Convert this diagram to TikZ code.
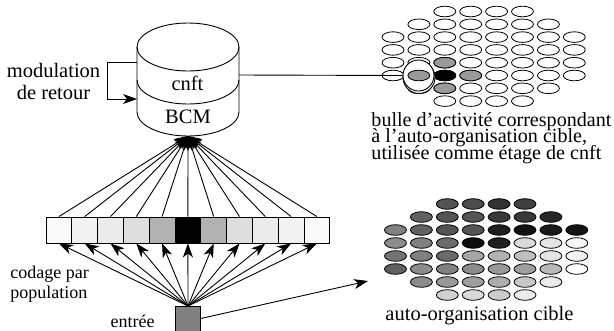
\documentclass[tikz,border=0pt]{standalone}
\usepackage{fontspec}
\setmainfont{Liberation Serif}
\usetikzlibrary{arrows.meta}
\begin{document}
\begin{tikzpicture}[x=1pt,y=-1pt,
  line width=0.9pt,
  arr/.style={-{Stealth[length=14pt,width=10pt,inset=4pt]}},
  big/.style={font=\fontsize{20.5}{22}\selectfont, inner sep=0pt},
  right/.style={font=\fontsize{20.1}{16}\selectfont, inner sep=0pt},
  small/.style={font=\fontsize{18}{20}\selectfont, inner sep=0pt},
  cell/.style={draw, minimum width=25.8pt, minimum height=26pt, inner sep=0pt},
  dotst/.style={draw, line width=0.8pt},
]
\useasboundingbox (0,0) rectangle (614,330);

% cylinder
\draw[fill=white] (137,47) -- (137,112) arc[start angle=180,end angle=360,x radius=51pt,y radius=24pt] -- (239,47);
\draw (188,47) ellipse[x radius=51pt,y radius=24pt];
\draw (137,80) arc[start angle=180,end angle=360,x radius=51pt,y radius=24pt];
\node[big, anchor=base] (cnft) at (187.5,90.7) {cnft};
\node[big, anchor=base] (bcm) at (188,123.3) {BCM};
\coordinate (cylbot) at (188,136);
\coordinate (cylR) at (239,75);
\coordinate (fbA) at (137,62);
\coordinate (fbB) at (137,99);

% feedback
\draw[arr] (fbA) -- ++(-30,0) |- (fbB);
\node[big, anchor=base] (mod1) at (53.5,77.3) {modulation};
\node[big, anchor=base] (mod2) at (53.5,99) {de retour};

% population code bar
\foreach \i/\g in {0/2,1/5,2/8,3/13,4/30,5/100,6/30,7/13,8/8,9/5,10/2}
  \node[cell, fill=black!\g] (s\i) at ({46+25.8*(\i+0.5)},230) {};
\foreach \i in {0,...,10} \draw[arr] (s\i.north) -- (cylbot);

% input
\node[draw, fill=black!50, minimum width=25pt, minimum height=30pt, inner sep=0pt, anchor=north] (inp) at (188,306) {};
\foreach \i in {0,...,10} \draw[arr] (inp.north) -- (s\i.south);
\node[small, anchor=base west] (cod1) at (10,278.5) {codage par};
\node[small, anchor=base west] (cod2) at (10,298) {population};
\node[small, anchor=base] (ent) at (132.5,327) {entrée};

% top grid (bubble)
\foreach \r/\c/\n in {0/2/4,1/1/6,2/0/8,3/0/8,4/0/8,5/0/8,6/1/6,7/2/4}
  \foreach \k in {1,...,\n}
    \draw[dotst, fill=white] ({393+25.9*(\c+\k-1)},{11.5+12.8*\r}) ellipse[x radius=11pt,y radius=5.3pt];
\foreach \c/\r/\g in {2/4/40,2/5/100,3/5/40,2/6/40}
  \draw[dotst, fill=black!\g] ({393+25.9*\c},{11.5+12.8*\r}) ellipse[x radius=11pt,y radius=5.3pt];
\draw[fill=white] (419,77.5) circle[radius=16pt];
\node[circle, draw, fill=white, minimum size=31pt, inner sep=0pt] (lens) at (418.5,75.5) {};
\draw[dotst, fill=black!40] ({393+25.9},{11.5+12.8*5}) ellipse[x radius=11pt,y radius=5.3pt];
\draw (cylR) -- (lens.west);
\node[right, anchor=base west] (b1) at (371,126) {bulle d'activité correspondant};
\node[right, anchor=base west] (b2) at (371,142.5) {à l'auto-organisation cible,};
\node[right, anchor=base west] (b3) at (371,159) {utilisée comme étage de cnft};

% bottom grid (target)
\newcommand{\bel}[3]{\draw[dotst, fill=black!#3] ({395.5+25.9*#1},{204+13*#2}) ellipse[x radius=11pt,y radius=5.3pt];}
\foreach \c/\g in {2/67,3/70,4/80,5/75} {\bel{\c}{0}{\g}}
\foreach \c/\g in {1/62,2/67,3/67,4/78,5/78,6/85} {\bel{\c}{1}{\g}}
\foreach \c/\g in {0/50,1/62,2/67,3/67,4/88,5/93,6/90,7/92} {\bel{\c}{2}{\g}}
\foreach \c/\g in {0/45,1/50,2/58,3/95,4/88,5/15,6/10,7/3} {\bel{\c}{3}{\g}}
\foreach \c/\g in {0/55,1/50,2/58,3/35,4/30,5/25,6/10,7/5} {\bel{\c}{4}{\g}}
\foreach \c/\g in {0/62,1/45,2/50,3/45,4/40,5/38,6/28,7/0} {\bel{\c}{5}{\g}}
\foreach \c/\g in {1/45,2/40,3/38,4/32,5/22,6/8} {\bel{\c}{6}{\g}}
\foreach \c/\g in {2/18,3/15,4/20,5/8} {\bel{\c}{7}{\g}}
\coordinate (grid2) at (368,281);
\draw[arr] ([yshift=3pt]inp.east) -- (grid2);
\node[big, anchor=base west] (tgt) at (385,320) {auto-organisation cible};
\end{tikzpicture}
\end{document}
